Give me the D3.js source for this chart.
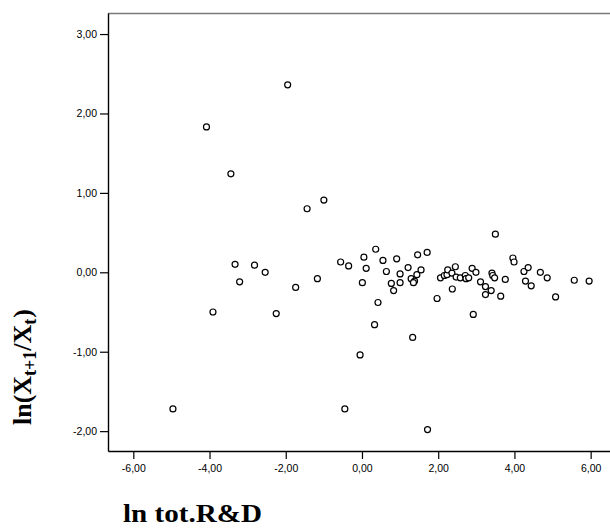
<!DOCTYPE html>
<html>
<head>
<meta charset="utf-8">
<script src="https://cdn.jsdelivr.net/npm/d3@7"></script>
<style>
  html, body { margin: 0; padding: 0; background: #fff; }
  svg { display: block; }
</style>
</head>
<body>
<svg id="chart" width="610" height="529"></svg>
<script>
// ---- data ----
const xTicks = [-6, -4, -2, 0, 2, 4, 6];
const yTicks = [-2, -1, 0, 1, 2, 3];
const xValues = [
  -4.96, -4.08, -3.91, -3.44, -3.33, -3.21, -2.82, -2.54, -2.25, -1.95,
  -1.74, -1.44, -1.17, -1.00, -0.56, -0.45, -0.35, -0.05, 0.01, 0.05,
  0.11, 0.33, 0.36, 0.42, 0.55, 0.64, 0.77, 0.83, 0.91, 1.00,
  1.00, 1.21, 1.29, 1.33, 1.38, 1.35, 1.44, 1.46, 1.55, 1.71,
  1.72, 1.97, 2.06, 2.16, 2.23, 2.25, 2.36, 2.37, 2.45, 2.47,
  2.58, 2.71, 2.73, 2.80, 2.89, 2.92, 2.99, 3.11, 3.24, 3.24,
  3.39, 3.41, 3.43, 3.48, 3.50, 3.64, 3.76, 3.96, 3.99, 4.25,
  4.29, 4.36, 4.44, 4.68, 4.86, 5.08, 5.57, 5.96
];
const yValues = [
  -1.72, 1.83, -0.50, 1.24, 0.10, -0.12, 0.09, 0.00, -0.52, 2.36,
  -0.19, 0.80, -0.08, 0.91, 0.13, -1.72, 0.08, -1.04, -0.13, 0.19,
  0.05, -0.66, 0.29, -0.38, 0.15, 0.01, -0.14, -0.23, 0.17, -0.02,
  -0.13, 0.06, -0.08, -0.82, -0.11, -0.13, -0.03, 0.22, 0.03, 0.25,
  -1.98, -0.33, -0.07, -0.04, -0.03, 0.03, -0.01, -0.21, 0.07, -0.06,
  -0.07, -0.04, -0.08, -0.07, 0.05, -0.53, 0.00, -0.12, -0.18, -0.28,
  -0.23, -0.01, -0.04, -0.07, 0.48, -0.30, -0.09, 0.18, 0.13, 0.01,
  -0.11, 0.06, -0.17, 0.00, -0.07, -0.31, -0.10, -0.11
];
const points = xValues.map((x, i) => ({ x, y: yValues[i] }));

// ---- layout ----
const svg = d3.select("#chart");
const mLeft = 108, mRight = 612, mTop = 13, mBottom = 451;

const xScale = d3.scaleLinear().domain([-6.664, 6.56]).range([mLeft, mRight]);
const yScale = d3.scaleLinear().domain([-2.25, 3.265]).range([mBottom, mTop]);

const fmt = v => d3.format(".2f")(v).replace(".", ",").replace("\u2212", "-");

// top border of frame
svg.append("line")
  .attr("x1", mLeft).attr("x2", mRight)
  .attr("y1", mTop + 0.5).attr("y2", mTop + 0.5)
  .attr("stroke", "#7a7a7a").attr("stroke-width", 1.6);

// y axis
const gy = svg.append("g")
  .attr("transform", `translate(${mLeft},0)`)
  .call(d3.axisLeft(yScale).tickValues(yTicks).tickSize(8).tickSizeOuter(0).tickPadding(3).tickFormat(fmt));

// x axis
const gx = svg.append("g")
  .attr("transform", `translate(0,${mBottom})`)
  .call(d3.axisBottom(xScale).tickValues(xTicks).tickSize(8).tickSizeOuter(0).tickPadding(6).tickFormat(fmt));

[gx, gy].forEach(g => {
  g.select(".domain").attr("stroke", "#000").attr("stroke-width", 1.4);
  g.selectAll(".tick line").attr("stroke", "#000").attr("stroke-width", 1.2);
  g.selectAll(".tick text")
    .attr("fill", "#000")
    .style("font-family", "'Liberation Sans', Arial, sans-serif")
    .style("font-size", "10.5px");
});

// points
svg.append("g").selectAll("circle")
  .data(points)
  .join("circle")
  .attr("cx", d => xScale(d.x))
  .attr("cy", d => yScale(d.y))
  .attr("r", 3)
  .attr("fill", "#fff")
  .attr("stroke", "#000")
  .attr("stroke-width", 1.2);

// axis titles
const serif = "'Liberation Serif', 'Times New Roman', serif";
svg.append("text")
  .attr("x", 123).attr("y", 522)
  .attr("textLength", 139)
  .attr("lengthAdjust", "spacingAndGlyphs")
  .style("font-family", serif)
  .style("font-weight", "bold")
  .style("font-size", "25px")
  .attr("fill", "#000")
  .text("ln tot.R&D");

const yl = svg.append("text")
  .attr("transform", "translate(31,367) rotate(-90)")
  .attr("text-anchor", "middle")
  .style("font-family", serif)
  .style("font-weight", "bold")
  .style("font-size", "26px")
  .attr("fill", "#000");
yl.append("tspan").text("ln(X");
yl.append("tspan").attr("dy", 5).style("font-size", "18px").text("t+1");
yl.append("tspan").attr("dy", -5).text("/X");
yl.append("tspan").attr("dy", 5).style("font-size", "18px").text("t");
yl.append("tspan").attr("dy", -5).attr("dx", 1).text(")");
</script>
</body>
</html>
